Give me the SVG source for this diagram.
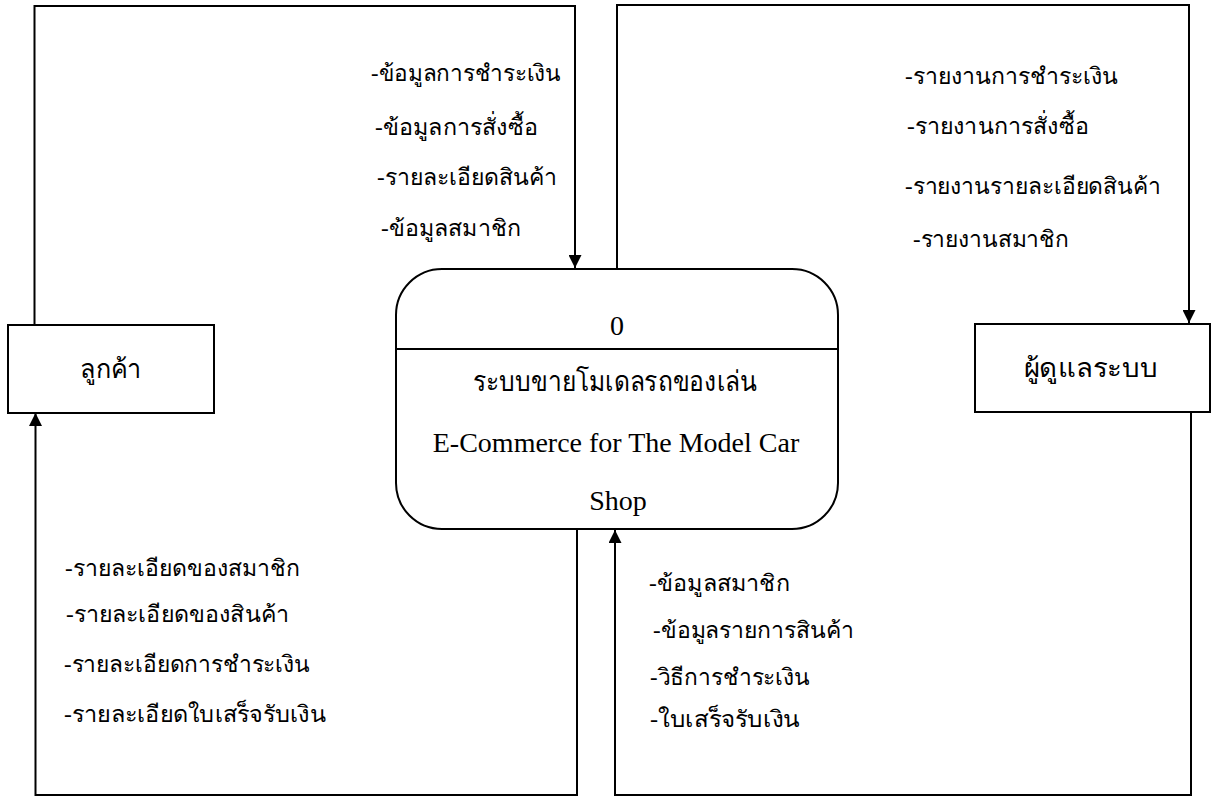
<svg xmlns="http://www.w3.org/2000/svg" width="1212" height="797" viewBox="0 0 1212 797">
<defs>
<marker id="ah" viewBox="0 0 10 10" refX="10" refY="5" markerWidth="13" markerHeight="13" markerUnits="userSpaceOnUse" orient="auto">
<path d="M0,0 L10,5 L0,10 z" fill="#000"/>
</marker>
<style>
.ln{fill:none;stroke:#000;stroke-width:2}
.box{fill:#fff;stroke:#000;stroke-width:2}
.lbl{font-family:"Liberation Serif","Noto Sans CJK SC",serif;font-size:23px;fill:#000}
.ent{font-family:"Noto Sans","DejaVu Sans","Noto Sans CJK SC",sans-serif;font-size:26px;fill:#000;text-anchor:middle}
.proc{font-family:"Liberation Serif","Noto Sans CJK SC",serif;font-size:28px;fill:#000;text-anchor:middle}
</style>
</defs>
<rect width="1212" height="797" fill="#fff"/>
<g id="connectors">
<polyline class="ln" points="34.5,325 34.5,6 575,6 575,268" marker-end="url(#ah)"/>
<polyline class="ln" points="617,268 617,5 1189,5 1189,323" marker-end="url(#ah)"/>
<polyline class="ln" points="577,530 577,795 35.5,795 35.5,413" marker-end="url(#ah)"/>
<polyline class="ln" points="1191,412 1191,795 615,795 615,530" marker-end="url(#ah)"/>
</g>
<g id="labels-top-left" class="lbl">
<text x="371" y="81" textLength="190" lengthAdjust="spacingAndGlyphs">-ข้อมูลการชำระเงิน</text>
<text x="375" y="135" textLength="163" lengthAdjust="spacingAndGlyphs">-ข้อมูลการสั่งซื้อ</text>
<text x="377" y="185" textLength="180" lengthAdjust="spacingAndGlyphs">-รายละเอียดสินค้า</text>
<text x="381" y="236" textLength="140" lengthAdjust="spacingAndGlyphs">-ข้อมูลสมาชิก</text>
</g>
<g id="labels-top-right" class="lbl">
<text x="905" y="84" textLength="213" lengthAdjust="spacingAndGlyphs">-รายงานการชำระเงิน</text>
<text x="907" y="134" textLength="182" lengthAdjust="spacingAndGlyphs">-รายงานการสั่งซื้อ</text>
<text x="905" y="194" textLength="256" lengthAdjust="spacingAndGlyphs">-รายงานรายละเอียดสินค้า</text>
<text x="913" y="247" textLength="156" lengthAdjust="spacingAndGlyphs">-รายงานสมาชิก</text>
</g>
<g id="labels-bottom-left" class="lbl">
<text x="65" y="576" textLength="235" lengthAdjust="spacingAndGlyphs">-รายละเอียดของสมาชิก</text>
<text x="66" y="622" textLength="223" lengthAdjust="spacingAndGlyphs">-รายละเอียดของสินค้า</text>
<text x="64" y="672" textLength="246" lengthAdjust="spacingAndGlyphs">-รายละเอียดการชำระเงิน</text>
<text x="64" y="722" textLength="262" lengthAdjust="spacingAndGlyphs">-รายละเอียดใบเสร็จรับเงิน</text>
</g>
<g id="labels-bottom-right" class="lbl">
<text x="649" y="591" textLength="141" lengthAdjust="spacingAndGlyphs">-ข้อมูลสมาชิก</text>
<text x="653" y="638" textLength="201" lengthAdjust="spacingAndGlyphs">-ข้อมูลรายการสินค้า</text>
<text x="650" y="685" textLength="160" lengthAdjust="spacingAndGlyphs">-วิธีการชำระเงิน</text>
<text x="650" y="727" textLength="150" lengthAdjust="spacingAndGlyphs">-ใบเสร็จรับเงิน</text>
</g>
<g id="customer">
<rect class="box" x="8" y="325" width="206" height="88"/>
<text class="ent" x="111" y="378" textLength="62" lengthAdjust="spacingAndGlyphs">ลูกค้า</text>
</g>
<g id="admin">
<rect class="box" x="975" y="324" width="235" height="88"/>
<text class="ent" x="1091" y="377" textLength="135" lengthAdjust="spacingAndGlyphs">ผู้ดูแลระบบ</text>
</g>
<g id="process0">
<rect class="box" x="396" y="269" width="442" height="260" rx="46" ry="46"/>
<line class="ln" x1="396" y1="349" x2="838" y2="349"/>
<text class="proc" x="617" y="335">0</text>
<text class="proc" x="615" y="391" font-size="24" textLength="284" lengthAdjust="spacingAndGlyphs">ระบบขายโมเดลรถของเล่น</text>
<text class="proc" x="616" y="452">E-Commerce for The Model Car</text>
<text class="proc" x="618" y="510">Shop</text>
</g>
</svg>
